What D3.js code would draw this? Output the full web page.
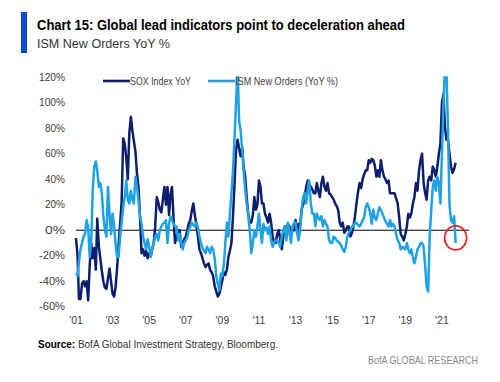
<!DOCTYPE html>
<html>
<head>
<meta charset="utf-8">
<script src="https://cdn.jsdelivr.net/npm/d3@7"></script>
<style>
  body { margin: 0; background: #fff; }
  svg { display: block; font-family: "Liberation Sans Narrow", "Liberation Sans", Arial, sans-serif; }
</style>
</head>
<body>
<svg id="chart"></svg>
<script>
// monthly, Jan 2001 .. Oct 2021
var firstMonth = "2001-01";

var soxValues = [
  -6, -20, -54, -54, -42, -40, -44, -40, -55, -28, -10, -22,
  -14, -31, 9, -12, -22, -32, -40, -45, -46, -38, -30, -40,
  -50, -52, -45, -30, -12, 5, 22, 72, 68, 57, 40, 76,
  89, 78, 70, 62, 45, 34, 11, -18, -15, -20, -16, -22,
  -18, -20, -15, -10, 3, 26, 22, 16, 14, 24, 34, 20,
  34, 12, 28, 34, 10, -10, -5, 0, 0, -13, -10, -7,
  -5, 0, 5, 8, 15, 21, 12, 4, -5, -15, -18, -22,
  -26, -29, -27, -26, -31, -33, -36, -44, -48, -52, -50, -45,
  -39, -33, -35, -31, -21, -16, -10, 11, 37, 63, 71, 64,
  58, 65, 50, 42, 26, 12, 6, 6, 12, 26, 16, 20,
  39, 34, 21, 21, 13, 10, 6, 13, 6, -5, -10, -10,
  -3, 0, -7, -15, -5, 3, -2, 5, 3, -5, 0, 0,
  8, -2, 5, 3, 16, 20, 26, 34, 39, 36, 34, 32,
  29, 29, 37, 31, 26, 37, 42, 34, 31, 37, 29, 28,
  26, 24, 21, 19, 16, 6, 3, 6, -2, 0, 3, 3,
  -5, -2, 3, 11, 21, 30, 37, 33, 40, 44, 47, 47,
  55, 53, 56, 55, 51, 42, 47, 42, 55, 47, 42, 40,
  37, 39, 29, 29, 29, 29, 25, 21, 10, -3, -5, -8,
  -3, 3, 13, 10, 13, 21, 26, 37, 31, 47, 55, 60,
  37, 29, 24, 39, 42, 39, 50, 47, 42, 50, 60, 68,
  100, 107, 81, 71, 71, 60, 50, 45, 48, 53
];

var ismValues = [
  -34, -36, -25, -15, -10, -5, -3, 8, 2, -21, -8, 32,
  50, 54, 47, 34, 37, 29, 11, 0, -5, 34, 13, -3,
  13, 3, -10, -21, -21, -5, 6, 18, 26, 39, 24, 21,
  31, 24, 21, 42, 34, 24, 11, 5, -5, -10, -15, -7,
  -13, -21, -15, -10, -5, -3, -8, 0, 3, 5, 6, 8,
  -10, 5, 11, 8, 5, 3, 3, -8, -3, -10, -15, -10,
  -8, -5, 0, 3, 6, 4, 3, 6, 2, -5, -10, -14,
  -16, -18, -13, -15, -18, -13, -15, -22, -36, -42, -47, -34,
  -36, -26, -10, 6, -5, 13, 29, 47, 73, 100, 128, 86,
  78, 63, 47, 32, 21, 13, 0, -18, -10, 0, -5, 3,
  13, 0, -10, 5, 0, 2, -3, 3, -8, -13, -10, -8,
  -8, -10, -13, -5, 0, 3, -8, 6, -2, -10, 3, 6,
  6, -2, -8, 0, 16, 26, 29, 21, 31, 39, 21, 13,
  13, 3, 13, 10, 8, 11, 3, 8, 5, 3, -8, -10,
  -10, -5, -6, -8, -9, -10, -12, -15, -17, -13, -5, -2,
  0, 3, 3, 6, 6, 4, 3, 5, 8, 10, 18, 21,
  18, 13, 5, 16, 10, 8, 13, 18, 16, 13, 10, 7,
  5, 3, 8, 3, 5, 3, -3, -8, -10, -15, -13, -14,
  -15, -10, -15, -18, -15, -21, -26, -21, -15, -13, -10, -10,
  -13, -28, -44, -48, -5, 16, 34, 39, 31, 42, 37, 21,
  60, 100, 128, 125, 80, 20, 8, 6, 11, -10
];

var seriesNames = ["SOX Index YoY", "ISM New Orders (YoY %)"];
var seriesColors = ["#0c1f6e", "#1ea2e3"];

var yTicks = [-60, -40, -20, 0, 20, 40, 60, 80, 100, 120];
var xTickYears = [2001, 2003, 2005, 2007, 2009, 2011, 2013, 2015, 2017, 2019, 2021];
var xTickLabels = ["'01", "'03", "'05", "'07", "'09", "'11", "'13", "'15", "'17", "'19", "'21"];

var width = 500, height = 382;

var svg = d3.select("#chart")
    .attr("width", width)
    .attr("height", height);

svg.append("rect").attr("width", width).attr("height", height).attr("fill", "#fff");

var parseMonth = d3.timeParse("%Y-%m");
var start = parseMonth(firstMonth);
var months = soxValues.map((v, i) => d3.timeMonth.offset(start, i));

var x = d3.scaleTime()
    .domain([new Date(2001, 0, 1), new Date(2022, 5, 25)])
    .range([76, 469]);

var y = d3.scaleLinear()
    .domain([-60, 120])
    .range([306.7, 77.3]);

// title block
svg.append("rect")
    .attr("x", 21).attr("y", 12)
    .attr("width", 6).attr("height", 41)
    .attr("fill", "#0a4bd0");

svg.append("text")
    .attr("x", 37).attr("y", 30)
    .attr("font-size", 15)
    .attr("font-weight", "bold")
    .attr("fill", "#000")
    .attr("textLength", 368)
    .attr("lengthAdjust", "spacingAndGlyphs")
    .text("Chart 15: Global lead indicators point to deceleration ahead");

svg.append("text")
    .attr("x", 37).attr("y", 48)
    .attr("font-size", 13)
    .attr("fill", "#333")
    .attr("textLength", 133)
    .attr("lengthAdjust", "spacingAndGlyphs")
    .text("ISM New Orders YoY %");

// y axis labels
svg.append("g")
    .selectAll("text")
    .data(yTicks)
    .enter()
    .append("text")
    .attr("x", 65)
    .attr("y", d => y(d) + 3.5)
    .attr("text-anchor", "end")
    .attr("font-size", 10.5)
    .attr("fill", "#404040")
    .attr("textLength", d => (d < 0 ? 26 : d >= 100 ? 26 : 20))
    .attr("lengthAdjust", "spacingAndGlyphs")
    .text(d => d + "%");

// x axis labels
svg.append("g")
    .selectAll("text")
    .data(xTickYears)
    .enter()
    .append("text")
    .attr("x", d => x(new Date(d, 0, 1)))
    .attr("y", 324)
    .attr("text-anchor", "middle")
    .attr("font-size", 10.5)
    .attr("fill", "#404040")
    .text((d, i) => xTickLabels[i]);

// zero line
svg.append("line")
    .attr("x1", x.range()[0]).attr("x2", x.range()[1])
    .attr("y1", y(0)).attr("y2", y(0))
    .attr("stroke", "#000")
    .attr("stroke-width", 1);

svg.append("clipPath")
    .attr("id", "plotclip")
    .append("rect")
    .attr("x", 60).attr("y", y(120) - 1)
    .attr("width", 420).attr("height", y(-60) - y(120) + 12);

var line = d3.line()
    .x((d, i) => x(months[i]))
    .y(d => y(d));

var plot = svg.append("g").attr("clip-path", "url(#plotclip)");

plot.append("path")
    .datum(soxValues)
    .attr("d", line)
    .attr("fill", "none")
    .attr("stroke", seriesColors[0])
    .attr("stroke-width", 2.5)
    .attr("stroke-linejoin", "round");

plot.append("path")
    .datum(ismValues)
    .attr("d", line)
    .attr("fill", "none")
    .attr("stroke", seriesColors[1])
    .attr("stroke-width", 2.5)
    .attr("stroke-linejoin", "round");

// legend
var legendX = [103, 208];
var legendTextWidth = [61, 103];
var legend = svg.append("g");
seriesNames.forEach((name, i) => {
    legend.append("line")
        .attr("x1", legendX[i]).attr("x2", legendX[i] + 27)
        .attr("y1", 81).attr("y2", 81)
        .attr("stroke", seriesColors[i])
        .attr("stroke-width", 2.6);
    legend.append("text")
        .attr("x", legendX[i] + 27)
        .attr("y", 85)
        .attr("font-size", 11)
        .attr("fill", "#404040")
        .attr("textLength", legendTextWidth[i])
        .attr("lengthAdjust", "spacingAndGlyphs")
        .text(name);
});

// red circle on the last ISM reading
var lastIdx = ismValues.length - 1;
svg.append("ellipse")
    .attr("cx", x(months[lastIdx]))
    .attr("cy", y(-6))
    .attr("rx", 11)
    .attr("ry", 12)
    .attr("fill", "none")
    .attr("stroke", "#e8221b")
    .attr("stroke-width", 1.6);

// source + footer
var src = svg.append("text")
    .attr("x", 38).attr("y", 348)
    .attr("font-size", 10.5)
    .attr("fill", "#333")
    .attr("textLength", 240)
    .attr("lengthAdjust", "spacingAndGlyphs");
src.append("tspan").attr("font-weight", "bold").attr("fill", "#000").text("Source:");
src.append("tspan").text("  BofA Global Investment Strategy, Bloomberg.");

svg.append("text")
    .attr("x", 478).attr("y", 364)
    .attr("text-anchor", "end")
    .attr("font-size", 10.5)
    .attr("fill", "#888")
    .attr("textLength", 110)
    .attr("lengthAdjust", "spacingAndGlyphs")
    .text("BofA GLOBAL RESEARCH");
</script>
</body>
</html>
